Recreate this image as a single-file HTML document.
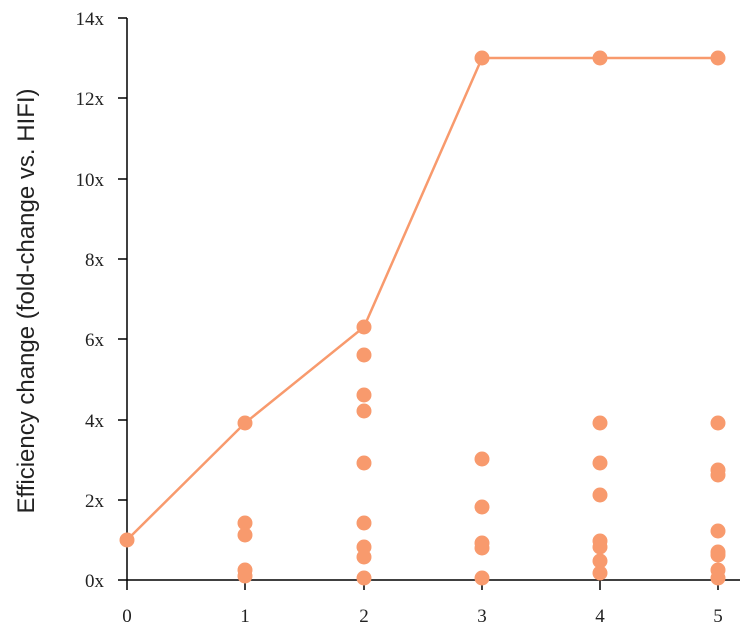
<!DOCTYPE html>
<html><head><style>
html,body{margin:0;padding:0;background:#fff;width:756px;height:642px;overflow:hidden}
</style></head><body>
<svg width="756" height="642" xmlns="http://www.w3.org/2000/svg">
<g font-family="Liberation Serif, serif" font-size="19" fill="#222" text-anchor="end">
<text x="104" y="25">14x</text>
<text x="104" y="105">12x</text>
<text x="104" y="186">10x</text>
<text x="104" y="266">8x</text>
<text x="104" y="346">6x</text>
<text x="104" y="427">4x</text>
<text x="104" y="507">2x</text>
<text x="104" y="587">0x</text>
</g>
<g font-family="Liberation Serif, serif" font-size="19" fill="#222" text-anchor="middle">
<text x="127" y="622">0</text>
<text x="245" y="622">1</text>
<text x="364" y="622">2</text>
<text x="482" y="622">3</text>
<text x="600" y="622">4</text>
<text x="718" y="622">5</text>
</g>
<text transform="translate(34,301) rotate(-90)" font-family="Liberation Sans, sans-serif" font-size="24" fill="#222" text-anchor="middle">Efficiency change (fold-change vs. HIFI)</text>
<g stroke="#000" stroke-width="1.5">
<line x1="127" y1="18" x2="127" y2="580"/>
<line x1="127" y1="580" x2="740" y2="580"/>
<line x1="118" y1="18" x2="127" y2="18"/>
<line x1="118" y1="98" x2="127" y2="98"/>
<line x1="118" y1="179" x2="127" y2="179"/>
<line x1="118" y1="259" x2="127" y2="259"/>
<line x1="118" y1="339" x2="127" y2="339"/>
<line x1="118" y1="420" x2="127" y2="420"/>
<line x1="118" y1="500" x2="127" y2="500"/>
<line x1="118" y1="580" x2="127" y2="580"/>
<line x1="127" y1="580" x2="127" y2="590"/>
<line x1="245" y1="580" x2="245" y2="590"/>
<line x1="364" y1="580" x2="364" y2="590"/>
<line x1="482" y1="580" x2="482" y2="590"/>
<line x1="600" y1="580" x2="600" y2="590"/>
<line x1="718" y1="580" x2="718" y2="590"/>
</g>
<polyline points="127,540 245,423 364,327 482,58 600,58 718,58" fill="none" stroke="#f89a6d" stroke-width="2.5"/>
<g fill="#f89a6d">
<circle cx="127" cy="540" r="7.5"/>
<circle cx="245" cy="423" r="7.5"/><circle cx="245" cy="523" r="7.5"/><circle cx="245" cy="535" r="7.5"/><circle cx="245" cy="570" r="7.5"/><circle cx="245" cy="576" r="7.5"/>
<circle cx="364" cy="327" r="7.5"/><circle cx="364" cy="355" r="7.5"/><circle cx="364" cy="395" r="7.5"/><circle cx="364" cy="411" r="7.5"/><circle cx="364" cy="463" r="7.5"/><circle cx="364" cy="523" r="7.5"/><circle cx="364" cy="547" r="7.5"/><circle cx="364" cy="557" r="7.5"/><circle cx="364" cy="578" r="7.5"/>
<circle cx="482" cy="58" r="7.5"/><circle cx="482" cy="459" r="7.5"/><circle cx="482" cy="507" r="7.5"/><circle cx="482" cy="543" r="7.5"/><circle cx="482" cy="548" r="7.5"/><circle cx="482" cy="578" r="7.5"/>
<circle cx="600" cy="58" r="7.5"/><circle cx="600" cy="423" r="7.5"/><circle cx="600" cy="463" r="7.5"/><circle cx="600" cy="495" r="7.5"/><circle cx="600" cy="541" r="7.5"/><circle cx="600" cy="547" r="7.5"/><circle cx="600" cy="561" r="7.5"/><circle cx="600" cy="573" r="7.5"/>
<circle cx="718" cy="58" r="7.5"/><circle cx="718" cy="423" r="7.5"/><circle cx="718" cy="470" r="7.5"/><circle cx="718" cy="475" r="7.5"/><circle cx="718" cy="531" r="7.5"/><circle cx="718" cy="552" r="7.5"/><circle cx="718" cy="555" r="7.5"/><circle cx="718" cy="570" r="7.5"/><circle cx="718" cy="578" r="7.5"/>
</g>
</svg>
</body></html>
